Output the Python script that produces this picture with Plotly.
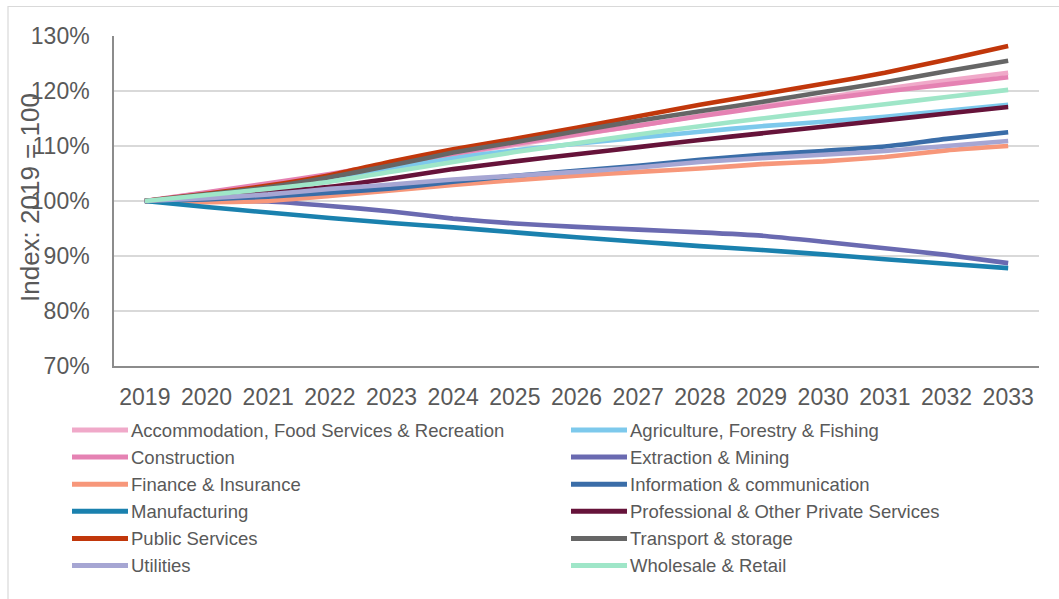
import plotly.graph_objects as go

years = list(range(2019, 2034))

accommodation = [100, 101.5, 103.0, 104.7, 106.6, 108.4, 110.2, 112.0, 113.7, 115.5, 117.2, 118.8, 120.4, 121.9, 123.3]
agriculture = [100, 101.2, 102.5, 104.0, 106.0, 107.8, 109.2, 110.4, 111.5, 112.6, 113.6, 114.4, 115.3, 116.4, 117.5]
construction = [100, 101.6, 103.2, 104.9, 106.8, 108.6, 110.4, 112.1, 113.7, 115.4, 117.0, 118.5, 119.9, 121.2, 122.5]
extraction = [100, 100.0, 99.9, 99.1, 98.1, 96.8, 95.9, 95.3, 94.8, 94.3, 93.7, 92.6, 91.4, 90.2, 88.7]
finance = [100, 99.8, 100.0, 100.9, 101.9, 102.9, 103.8, 104.6, 105.3, 105.9, 106.7, 107.2, 108.0, 109.2, 110.0]
information = [100, 100.3, 100.8, 101.5, 102.3, 103.5, 104.6, 105.5, 106.4, 107.5, 108.4, 109.1, 109.9, 111.3, 112.5]
manufacturing = [100, 98.9, 97.9, 96.9, 96.0, 95.2, 94.3, 93.4, 92.6, 91.8, 91.1, 90.3, 89.4, 88.6, 87.8]
professional = [100, 100.8, 101.6, 102.6, 104.1, 105.8, 107.2, 108.5, 109.8, 111.1, 112.3, 113.5, 114.7, 115.9, 117.1]
public = [100, 101.3, 102.8, 104.7, 107.2, 109.4, 111.3, 113.3, 115.4, 117.5, 119.4, 121.3, 123.3, 125.7, 128.2]
transport = [100, 101.2, 102.5, 104.3, 106.5, 108.8, 110.7, 112.7, 114.6, 116.3, 118.0, 119.8, 121.6, 123.6, 125.5]
utilities = [100, 100.5, 101.2, 102.2, 103.0, 103.9, 104.6, 105.3, 106.1, 107.1, 107.8, 108.4, 109.1, 110.0, 110.9]
wholesale = [100, 101.1, 102.2, 103.5, 105.3, 107.1, 108.9, 110.5, 112.1, 113.6, 115.0, 116.3, 117.6, 118.9, 120.2]

series = [
    ("Accommodation, Food Services & Recreation", accommodation, "#F0A9C9"),
    ("Agriculture, Forestry & Fishing", agriculture, "#7DC9EC"),
    ("Construction", construction, "#E582B3"),
    ("Extraction & Mining", extraction, "#6A6AB1"),
    ("Finance & Insurance", finance, "#F7977A"),
    ("Information & communication", information, "#3A6DA8"),
    ("Manufacturing", manufacturing, "#1A81AE"),
    ("Professional & Other Private Services", professional, "#66133A"),
    ("Public Services", public, "#C1370B"),
    ("Transport & storage", transport, "#666666"),
    ("Utilities", utilities, "#A6A6D3"),
    ("Wholesale & Retail", wholesale, "#9FE6C8"),
]

TEXT = "#595959"
FONT = "Liberation Sans, Arial, sans-serif"

# plot-area geometry in pixels (used to place the outside legend / labels)
W, H = 1059, 599
L, R, T, B = 114, 20, 36, 233
PW, PH = W - L - R, H - T - B


def px(x):
    return (x - L) / PW


def py(y):
    return (H - B - y) / PH


fig = go.Figure()
for name, vals, col in series:
    fig.add_trace(go.Scatter(
        x=years, y=vals, name=name, mode="lines",
        line=dict(color=col, width=4.6, shape="spline", smoothing=0.5),
        showlegend=False,
    ))

shapes = []
annotations = []

# two-column legend below the chart
for i, (name, vals, col) in enumerate(series):
    row, c = divmod(i, 2)
    yc = 430 + row * 27.1
    x0 = 72 + c * 499
    shapes.append(dict(type="line", xref="paper", yref="paper",
                       x0=px(x0), x1=px(x0 + 56), y0=py(yc), y1=py(yc),
                       line=dict(color=col, width=5)))
    annotations.append(dict(xref="paper", yref="paper", x=px(x0 + 57), y=py(yc),
                            xanchor="left", yanchor="middle", showarrow=False,
                            text=name, font=dict(family=FONT, size=18.5, color=TEXT)))

# y-axis title
annotations.append(dict(xref="paper", yref="paper", x=px(30), y=py(198),
                        xanchor="center", yanchor="middle", showarrow=False,
                        textangle=-90, text="Index: 2019 = 100",
                        font=dict(family=FONT, size=26, color=TEXT)))

# chart frame
shapes.append(dict(type="rect", xref="paper", yref="paper",
                   x0=px(8), x1=px(1075), y0=py(6.5), y1=py(615),
                   line=dict(color="#D9D9D9", width=1.2), fillcolor="rgba(0,0,0,0)",
                   layer="below"))

fig.update_layout(
    width=W, height=H,
    margin=dict(l=L, r=R, t=T, b=B),
    paper_bgcolor="white", plot_bgcolor="white",
    font=dict(family=FONT, color=TEXT),
    shapes=shapes, annotations=annotations,
    xaxis=dict(range=[2018.5, 2033.5], tickvals=years, ticktext=[str(y) for y in years],
               showgrid=False, zeroline=False, showline=True, linecolor="#8C8C8C",
               linewidth=1.5, ticks="", ticklabelstandoff=10,
               tickfont=dict(family=FONT, size=23, color=TEXT)),
    yaxis=dict(range=[70, 130], dtick=10, tickvals=[70, 80, 90, 100, 110, 120, 130],
               ticktext=["70%", "80%", "90%", "100%", "110%", "120%", "130%"],
               showgrid=True, gridcolor="#D9D9D9", gridwidth=1.5, zeroline=False,
               showline=True, linecolor="#8C8C8C", linewidth=1.5, ticks="",
               ticklabelstandoff=18, tickfont=dict(family=FONT, size=23, color=TEXT)),
)

fig.write_html("out.html")
